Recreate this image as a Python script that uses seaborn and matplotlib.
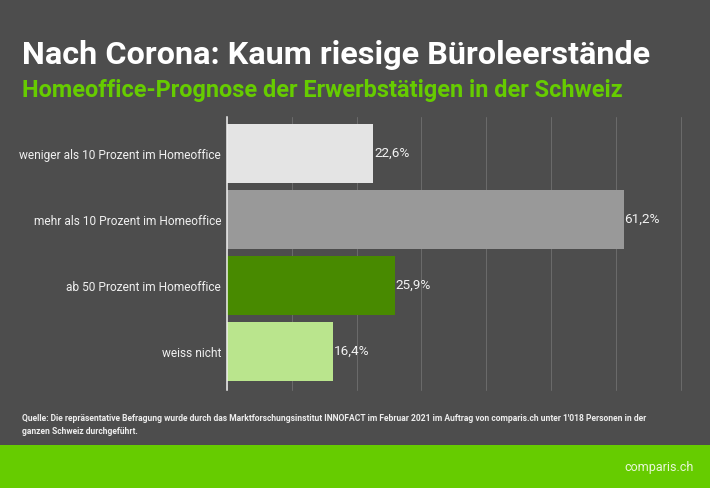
import matplotlib
matplotlib.use("Agg")
import matplotlib.pyplot as plt
from matplotlib.patches import Rectangle
import pandas as pd
import seaborn as sns

categories = ["weniger als 10 Prozent im Homeoffice", "mehr als 10 Prozent im Homeoffice",
              "ab 50 Prozent im Homeoffice", "weiss nicht"]
values = [22.6, 61.2, 25.9, 16.4]
labels = ["22,6%", "61,2%", "25,9%", "16,4%"]
colors = ["#E4E4E4", "#999999", "#488A00", "#BAE58D"]
title = "Nach Corona: Kaum riesige Büroleerstände"
subtitle = "Homeoffice-Prognose der Erwerbstätigen in der Schweiz"
source = ("Quelle: Die repräsentative Befragung wurde durch das Marktforschungsinstitut INNOFACT im Februar 2021 "
          "im Auftrag von comparis.ch unter 1'018 Personen in der\nganzen Schweiz durchgeführt.")
brand = "comparis.ch"

BG = "#4D4D4D"
W, H = 710, 488
sns.set_theme(style="dark")
plt.rcParams["font.family"] = ["Roboto", "DejaVu Sans"]

fig = plt.figure(figsize=(W / 100, H / 100), dpi=100, facecolor=BG)
ax = fig.add_axes([227 / W, 1 - 390 / H, (680.6 - 227) / W, (390 - 117) / H], facecolor=BG)

df = pd.DataFrame({"cat": categories, "val": values})
sns.barplot(data=df, y="cat", x="val", hue="cat", palette=colors, orient="h",
            width=0.9, legend=False, ax=ax, saturation=1, linewidth=0, zorder=3)

ax.set_xlim(0, 70)
ax.set_ylim(3.583, -0.553)
ax.set_xticks(range(0, 80, 10))
ax.tick_params(axis="x", length=0, labelbottom=False)
ax.tick_params(axis="y", length=0, pad=4.2, labelsize=8.55, labelcolor="#F0F0F0")
ax.set_xlabel("")
ax.set_ylabel("")
ax.grid(axis="x", color="#6A6A6A", linewidth=0.75, zorder=1)
ax.grid(axis="y", visible=False)
for gl in ax.get_xgridlines():
    gl.set_clip_on(False)
for s in ["top", "right", "bottom"]:
    ax.spines[s].set_visible(False)
ax.spines["left"].set_color("#F0F0F0")
ax.spines["left"].set_linewidth(1.1)
ax.spines["left"].set_zorder(5)

for i, (v, lab) in enumerate(zip(values, labels)):
    ax.annotate(lab, (v, i), xytext=(0.6, 0), textcoords="offset points", va="center", ha="left",
                fontsize=9.7, color="#F2F2F2")

fig.text(22 / W, 1 - 55 / H, title, fontsize=23.3, fontweight="bold", color="white", va="center", ha="left")
fig.text(22 / W, 1 - 90 / H, subtitle, fontsize=16.95, fontweight="bold", color="#66CC00", va="center", ha="left")
fig.text(22 / W, 1 - 425 / H, source, fontsize=6.13, fontweight="bold", color="#EDEDED", va="center", ha="left",
         linespacing=1.7)

fig.add_artist(Rectangle((0, 0), 1, 1 - 445 / H, transform=fig.transFigure, facecolor="#66CC00", edgecolor="none"))
fig.text(694 / W, 1 - 467 / H, brand, fontsize=9.0, color="#E9F7D9", va="center", ha="right", zorder=5)

fig.savefig("out.png", dpi=100, facecolor=BG)
